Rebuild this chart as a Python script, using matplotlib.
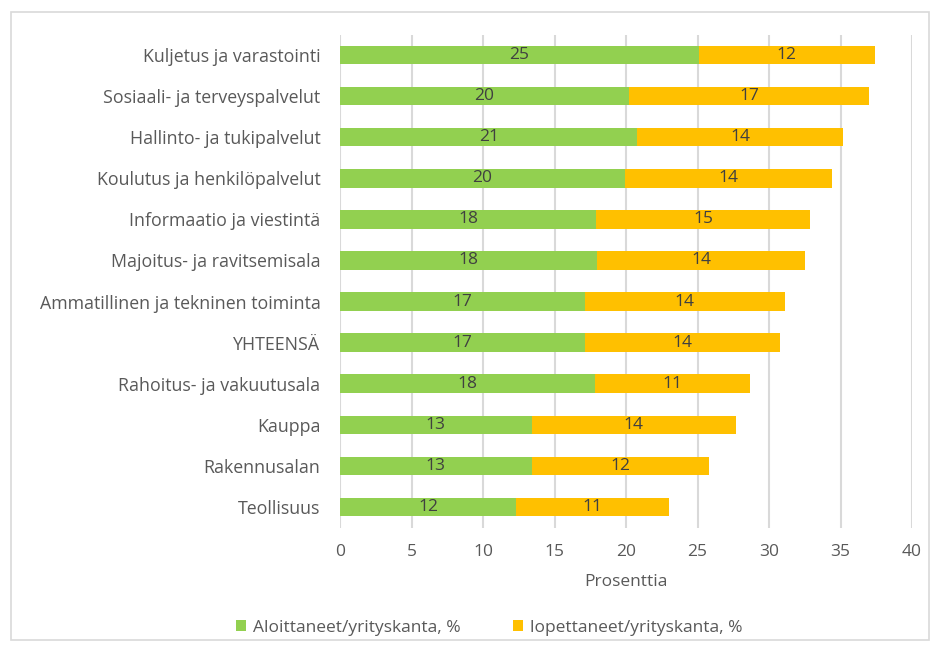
import matplotlib.pyplot as plt
from matplotlib.patches import Rectangle

categories = [
    "Kuljetus ja varastointi",
    "Sosiaali- ja terveyspalvelut",
    "Hallinto- ja tukipalvelut",
    "Koulutus ja henkilöpalvelut",
    "Informaatio ja viestintä",
    "Majoitus- ja ravitsemisala",
    "Ammatillinen ja tekninen toiminta",
    "YHTEENSÄ",
    "Rahoitus- ja vakuutusala",
    "Kauppa",
    "Rakennusalan",
    "Teollisuus",
]
aloittaneet = [25.1, 20.2, 20.8, 19.9, 17.9, 18.0, 17.1, 17.1, 17.8, 13.4, 13.4, 12.3]
lopettaneet = [12.3, 16.8, 14.4, 14.5, 15.0, 14.5, 14.0, 13.7, 10.9, 14.3, 12.4, 10.7]
xticks = [0, 5, 10, 15, 20, 25, 30, 35, 40]

plt.rcParams['font.family'] = ['Open Sans', 'DejaVu Sans']
gray = '#595959'
fs = 12.5

fig = plt.figure(figsize=(9.42, 6.5), dpi=100)
ax = fig.add_axes([340 / 942, 1 - 527.5 / 650, 572 / 942, 493 / 650])

y = list(range(len(categories)))
b1 = ax.barh(y, aloittaneet, height=0.45, color='#92D050', label='Aloittaneet/yrityskanta, %')
b2 = ax.barh(y, lopettaneet, left=aloittaneet, height=0.45, color='#FFC000',
             label='lopettaneet/yrityskanta, %')
ax.bar_label(b1, fmt='%.0f', label_type='center', color='#404040', fontsize=fs)
ax.bar_label(b2, fmt='%.0f', label_type='center', color='#404040', fontsize=fs)

ax.set_ylim(len(categories) - 0.5, -0.5)
ax.set_yticks(y)
ax.set_yticklabels(categories, fontsize=12.8)
ax.set_xlim(0, 40)
ax.set_xticks(xticks)
ax.set_xlabel('Prosenttia', color=gray, fontsize=fs, labelpad=10)

ax.set_axisbelow(True)
ax.grid(axis='x', color='#D9D9D9', linewidth=1.5)
for s in ['top', 'right', 'bottom', 'left']:
    ax.spines[s].set_visible(False)
ax.tick_params(axis='x', length=0, colors=gray, labelsize=fs, pad=12)
ax.tick_params(axis='y', length=0, colors=gray, pad=14)

fig.legend(handles=[b1, b2], loc='center', bbox_to_anchor=(489 / 942, 1 - 628 / 650),
           ncol=2, frameon=False, fontsize=fs, labelcolor=gray, handlelength=0.6,
           handleheight=0.6, columnspacing=3, handletextpad=0.4)

fig.patches.append(Rectangle((11 / 942, 10 / 650), 918 / 942, 628 / 650, transform=fig.transFigure,
                             fill=False, edgecolor='#D9D9D9', linewidth=1.2))

fig.savefig('out.png', dpi=100)
